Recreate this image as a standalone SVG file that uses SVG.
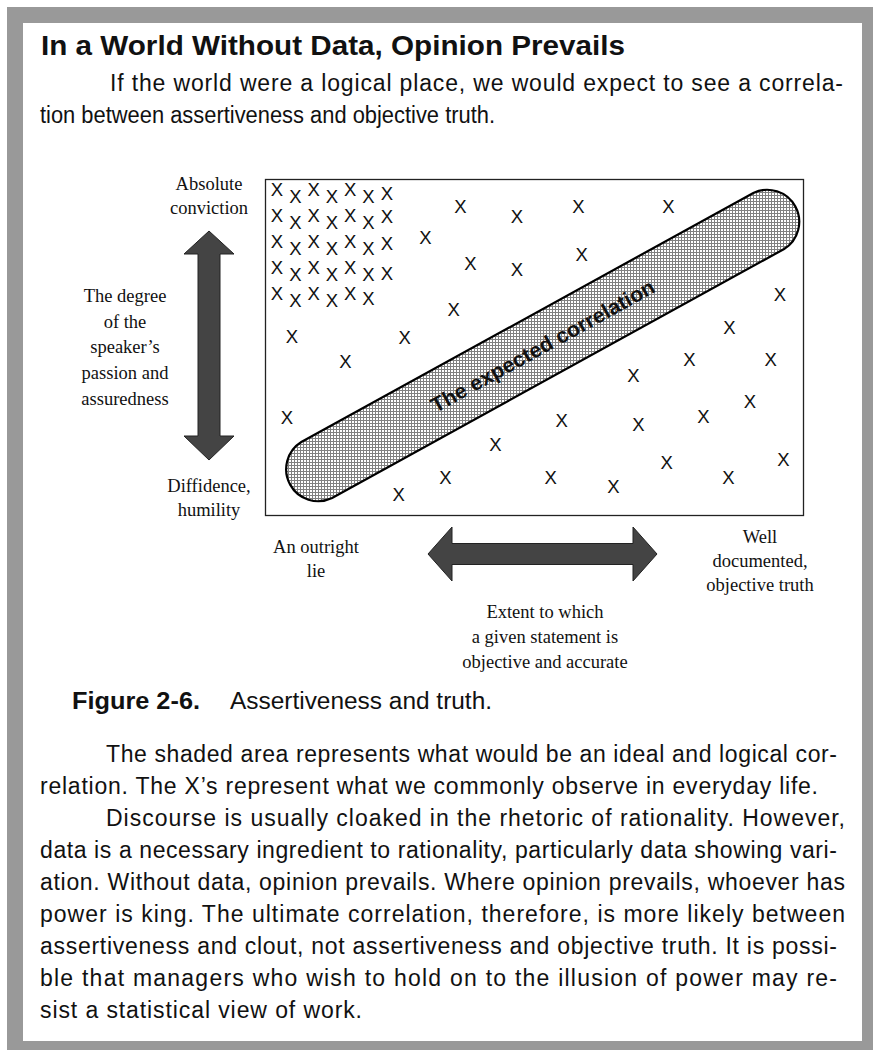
<svg xmlns="http://www.w3.org/2000/svg" width="873" height="1050" viewBox="0 0 873 1050">
<style>
.body{font-family:"Liberation Sans",Arial,sans-serif;font-size:23px;fill:#111}
.title{font-family:"Liberation Sans",Arial,sans-serif;font-size:27px;font-weight:bold;fill:#111}
.cap{font-family:"Liberation Sans",Arial,sans-serif;font-size:23px;fill:#111}
.lbl{font-family:"Liberation Serif","Times New Roman",serif;font-size:18.5px;fill:#111;text-anchor:middle}
.x{font-family:"Liberation Sans",Arial,sans-serif;font-size:18.5px;fill:#111;text-anchor:middle;dominant-baseline:central}
.arrow{fill:#444;stroke:#222;stroke-width:1}
</style>
<defs>
<pattern id="mesh" patternUnits="userSpaceOnUse" width="3" height="3">
<rect width="3" height="3" fill="#fff"/>
<rect width="3" height="1" fill="#808080"/>
<rect width="1" height="3" fill="#808080"/>
</pattern>
</defs>
<rect x="7" y="7" width="880" height="1060" fill="#999"/>
<rect x="23" y="23" width="839" height="1018" fill="#fff"/>

<g id="heading">
<text class="title" x="41" y="55" textLength="584" lengthAdjust="spacingAndGlyphs">In a World Without Data, Opinion Prevails</text>
<text class="body" x="110" y="91" textLength="733" lengthAdjust="spacing">If the world were a logical place, we would expect to see a correla-</text>
<text class="body" x="40" y="123" textLength="455" lengthAdjust="spacingAndGlyphs">tion between assertiveness and objective truth.</text>
</g>

<g id="plot">
<rect x="265.5" y="179.5" width="538" height="336" fill="#fff" stroke="#222" stroke-width="1.3"/>
</g>

<g id="band">
<path d="M301.3 442 L753.3 193 A32 32 0 0 1 784.1 249 L332.1 498 A32 32 0 0 1 301.3 442 Z" fill="url(#mesh)" stroke="#000" stroke-width="2.2"/>
<text transform="translate(542.5 345.8) rotate(-28.85)" x="0" y="0" text-anchor="middle" dominant-baseline="central" font-family="Liberation Sans, Arial, sans-serif" font-size="21" font-weight="bold" fill="#111" textLength="252" lengthAdjust="spacingAndGlyphs">The expected correlation</text>
</g>

<g id="xmarks">
<text class="x" x="277" y="189">X</text><text class="x" x="295.3" y="196">X</text><text class="x" x="313.6" y="189">X</text><text class="x" x="331.9" y="196">X</text><text class="x" x="350.2" y="189">X</text><text class="x" x="368.5" y="196">X</text><text class="x" x="386.8" y="193">X</text>
<text class="x" x="277" y="215">X</text><text class="x" x="295.3" y="222">X</text><text class="x" x="313.6" y="215">X</text><text class="x" x="331.9" y="222">X</text><text class="x" x="350.2" y="215">X</text><text class="x" x="368.5" y="222">X</text><text class="x" x="386.8" y="216">X</text>
<text class="x" x="277" y="241">X</text><text class="x" x="295.3" y="248">X</text><text class="x" x="313.6" y="241">X</text><text class="x" x="331.9" y="248">X</text><text class="x" x="350.2" y="241">X</text><text class="x" x="368.5" y="248">X</text><text class="x" x="386.8" y="243">X</text>
<text class="x" x="277" y="267">X</text><text class="x" x="295.3" y="274">X</text><text class="x" x="313.6" y="267">X</text><text class="x" x="331.9" y="274">X</text><text class="x" x="350.2" y="267">X</text><text class="x" x="368.5" y="274">X</text><text class="x" x="386.8" y="273">X</text>
<text class="x" x="277" y="293">X</text><text class="x" x="295.3" y="300">X</text><text class="x" x="313.6" y="293">X</text><text class="x" x="331.9" y="300">X</text><text class="x" x="350.2" y="293">X</text><text class="x" x="368.5" y="298">X</text>
<text class="x" x="460.3" y="206">X</text>
<text class="x" x="517" y="216">X</text>
<text class="x" x="425.3" y="237.7">X</text>
<text class="x" x="470.3" y="263.3">X</text>
<text class="x" x="517" y="269.3">X</text>
<text class="x" x="453.7" y="309.3">X</text>
<text class="x" x="292" y="336">X</text>
<text class="x" x="404.7" y="337.7">X</text>
<text class="x" x="345.3" y="361">X</text>
<text class="x" x="287" y="417.7">X</text>
<text class="x" x="495.3" y="444.3">X</text>
<text class="x" x="445.3" y="477.7">X</text>
<text class="x" x="398.7" y="494.3">X</text>
<text class="x" x="578.3" y="206">X</text>
<text class="x" x="668.3" y="206">X</text>
<text class="x" x="581.7" y="254.3">X</text>
<text class="x" x="780" y="294.3">X</text>
<text class="x" x="729.3" y="327.7">X</text>
<text class="x" x="689.3" y="359.3">X</text>
<text class="x" x="770.7" y="359.3">X</text>
<text class="x" x="633.3" y="375.3">X</text>
<text class="x" x="750" y="401">X</text>
<text class="x" x="561.7" y="420.3">X</text>
<text class="x" x="638.3" y="424.3">X</text>
<text class="x" x="703.3" y="416.7">X</text>
<text class="x" x="666.7" y="462.7">X</text>
<text class="x" x="783.3" y="459.3">X</text>
<text class="x" x="550.7" y="477.7">X</text>
<text class="x" x="613.3" y="486">X</text>
<text class="x" x="728.3" y="477.7">X</text>
</g>

<g id="connectors">
<polygon id="v-arrow" class="arrow" points="209,231 234,254 220,254 220,436 234,436 209,460 184,436 198,436 198,254 184,254"/>
<polygon id="h-arrow" class="arrow" points="428,554 452,527 452,543.5 633,543.5 633,527 657,554 633,581 633,564.5 452,564.5 452,581"/>
</g>

<g id="label-top">
<text class="lbl" x="209" y="190">Absolute</text>
<text class="lbl" x="209" y="214">conviction</text>
</g>
<g id="label-left">
<text class="lbl" x="125" y="302">The degree</text>
<text class="lbl" x="125" y="327.7">of the</text>
<text class="lbl" x="125" y="353.4">speaker’s</text>
<text class="lbl" x="125" y="379">passion and</text>
<text class="lbl" x="125" y="404.7">assuredness</text>
</g>
<g id="label-bottom">
<text class="lbl" x="209" y="492">Diffidence,</text>
<text class="lbl" x="209" y="516">humility</text>
</g>
<g id="label-lie">
<text class="lbl" x="316" y="553">An outright</text>
<text class="lbl" x="316" y="577">lie</text>
</g>
<g id="label-truth">
<text class="lbl" x="760" y="543">Well</text>
<text class="lbl" x="760" y="567">documented,</text>
<text class="lbl" x="760" y="591">objective truth</text>
</g>
<g id="label-axis">
<text class="lbl" x="545" y="618">Extent to which</text>
<text class="lbl" x="545" y="643">a given statement is</text>
<text class="lbl" x="545" y="668">objective and accurate</text>
</g>

<g id="caption">
<text class="cap" x="72" y="709" font-weight="bold" textLength="128" lengthAdjust="spacingAndGlyphs">Figure 2-6.</text>
<text class="cap" x="230" y="709" textLength="262" lengthAdjust="spacingAndGlyphs">Assertiveness and truth.</text>
</g>

<g id="body">
<text class="body" x="106" y="762" textLength="731" lengthAdjust="spacing">The shaded area represents what would be an ideal and logical cor-</text>
<text class="body" x="40" y="794" textLength="778" lengthAdjust="spacing">relation. The X’s represent what we commonly observe in everyday life.</text>
<text class="body" x="106" y="826" textLength="739" lengthAdjust="spacing">Discourse is usually cloaked in the rhetoric of rationality. However,</text>
<text class="body" x="40" y="858" textLength="797" lengthAdjust="spacing">data is a necessary ingredient to rationality, particularly data showing vari-</text>
<text class="body" x="40" y="890" textLength="805" lengthAdjust="spacing">ation. Without data, opinion prevails. Where opinion prevails, whoever has</text>
<text class="body" x="40" y="922" textLength="805" lengthAdjust="spacing">power is king. The ultimate correlation, therefore, is more likely between</text>
<text class="body" x="40" y="954" textLength="797" lengthAdjust="spacing">assertiveness and clout, not assertiveness and objective truth. It is possi-</text>
<text class="body" x="40" y="986" textLength="797" lengthAdjust="spacing">ble that managers who wish to hold on to the illusion of power may re-</text>
<text class="body" x="40" y="1018" textLength="322" lengthAdjust="spacing">sist a statistical view of work.</text>
</g>
</svg>
